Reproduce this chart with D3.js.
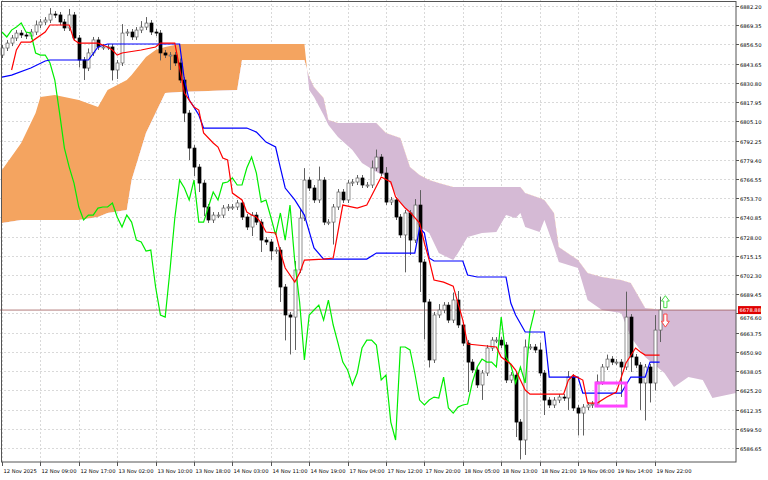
<!DOCTYPE html>
<html><head><meta charset="utf-8">
<script src="https://cdn.jsdelivr.net/npm/d3@7/dist/d3.min.js"></script>
<style>body{margin:0;background:#fff}svg{display:block}text{font-family:"DejaVu Sans",Arial,sans-serif;font-size:5.2px;fill:#000}</style>
</head><body><svg id="c" width="768" height="480"></svg>
<script>
const firstOpen = 6849.4;
const closes = [6854.1,6857.4,6860.8,6864.1,6862.8,6862.1,6864.8,6869.5,6871.5,6872.8,
6876.8,6876.2,6871.5,6867.5,6876.2,6860.8,6846.1,6840.7,6850.8,6859.5,
6854.8,6854.8,6854.8,6839.4,6844.1,6864.1,6864.8,6861.5,6866.1,6868.1,
6870.8,6864.8,6864.1,6850.8,6849.4,6849.4,6844.1,6832.7,6810.6,6787.2,
6774.5,6763.8,6747.8,6739.1,6742.4,6742.4,6747.1,6747.8,6747.8,6750.5,
6741.1,6734.4,6742.4,6737.7,6725.7,6724.4,6718.4,6719.0,6694.3,6675.6,
6674.2,6705.7,6740.4,6765.8,6760.5,6752.5,6765.8,6737.7,6737.7,6747.8,
6757.8,6752.5,6763.8,6764.5,6767.2,6762.5,6762.5,6773.9,6781.2,6770.5,
6751.1,6752.5,6741.1,6729.1,6743.8,6725.7,6749.1,6711.0,6684.3,6645.5,
6675.6,6678.9,6682.2,6672.2,6685.6,6668.9,6656.8,6644.1,6638.8,6628.8,
6636.8,6653.5,6658.8,6658.8,6655.5,6632.1,6635.4,6604.0,6592.0,6654.2,
6654.2,6652.2,6636.8,6618.7,6615.4,6618.7,6620.7,6620.1,6634.1,6613.4,
6610.0,6614.0,6615.4,6616.0,6630.8,6640.8,6646.1,6644.1,6644.1,6640.8,
6674.2,6647.5,6642.1,6630.1,6640.8,6630.1,6665.5,6678.88];
const wickUp = [2,2,2,2,2,2,2,3,2,2, 4,2,2,2,4,2,2,2,3,2, 2,2,2,2,2,6,2,2,2,4, 4,2,2,2,2,2,2,3,2,2,
2,2,2,2,2,2,2,2,2,2, 2,2,2,2,2,2,2,2,2,2, 2,6,6,8,2,2,9,2,2,2, 2,2,2,2,2,2,2,5,5,2,
4,2,2,2,2,2,4,10,2,2, 2,4,2,2,5,6,2,2,2,2, 2,2,2,2,2,2,2,2,2,5, 2,2,5,2,2,2,2,2,4,2,
2,2,2,2,5,2,3,2,2,2, 17,2,2,2,2,2,10,9];
const wickDn = [2,2,2,2,2,2,2,2,2,2, 2,2,2,2,2,2,5,8,2,2, 2,2,2,7,6,2,2,2,2,2, 2,2,2,5,2,10,2,2,6,8,
6,6,6,2,2,2,2,2,2,2, 2,2,6,2,8,2,6,2,10,17, 25,22,2,2,2,2,2,2,2,15, 2,2,2,2,2,2,2,2,2,2,
2,2,2,2,25,10,2,20,25,5, 2,2,2,2,2,2,2,20,2,2, 10,2,2,2,2,2,2,10,13,10, 2,2,2,10,2,2,2,2,8,2,
15,15,2,2,2,2,2,2,2,20, 2,10,2,18,25,13,5,8];
const tenkan = [[2,6839.4],[3,6852.8],[4,6858.1],[6,6858.1],[9,6864.8],[10,6869.5],[14,6869.5],[15,6859.5],[16,6857.4],[20,6857.4],[22,6854.8],[23,6852.8],[24,6849.4],[25,6850.8],[29,6852.8],[32,6854.8],[33,6857.4],[36,6857.4],[38,6824.0],[40,6814.6],[41,6812.6],[42,6797.3],[44,6790.6],[45,6787.9],[46,6780.5],[47,6779.2],[48,6757.1],[50,6752.5],[51,6744.4],[52,6742.4],[53,6741.1],[54,6737.1],[55,6731.1],[57,6730.4],[58,6717.7],[59,6707.0],[61,6697.6],[62,6703.6],[63,6712.3],[67,6713.0],[69,6713.7],[71,6749.1],[74,6747.1],[76,6749.1],[79,6767.8],[81,6764.5],[82,6754.5],[84,6747.1],[85,6744.4],[87,6737.1],[88,6723.7],[89,6712.3],[90,6699.0],[92,6697.6],[94,6694.9],[96,6672.2],[97,6656.2],[103,6654.2],[104,6647.5],[106,6642.8],[107,6638.8],[109,6625.4],[110,6622.7],[117,6622.7],[118,6632.1],[119,6635.4],[121,6632.1],[122,6616.7],[124,6616.7],[126,6620.7],[128,6624.1],[130,6643.5],[132,6653.5],[133,6650.8],[134,6648.8],[137,6648.8]];
const kijun = [[0,6834.7],[2,6836.0],[6,6840.7],[9,6845.4],[10,6846.1],[18,6846.1],[20,6854.8],[22,6856.8],[37,6856.8],[38,6832.7],[39,6819.3],[40,6814.6],[41,6809.3],[42,6800.6],[51,6800.6],[53,6797.9],[55,6791.2],[57,6787.9],[58,6773.9],[59,6760.5],[61,6752.5],[63,6742.4],[65,6720.4],[67,6713.0],[76,6713.0],[78,6717.0],[86,6717.0],[87,6733.7],[88,6730.4],[89,6713.7],[90,6711.7],[96,6711.7],[97,6702.3],[99,6701.0],[105,6701.0],[106,6683.6],[107,6675.6],[109,6664.2],[113,6664.2],[114,6634.1],[120,6634.1],[121,6623.4],[129,6623.4],[130,6628.8],[131,6634.1],[134,6634.1],[135,6644.1],[137,6644.1]];
const cloudIdx = [0,4,7,8,11,16,20,22,26,27,30,32,34,37,49,50,63,64,65,67,68,70,73,75,78,80,83,85,87,89,91,94,95,97,100,103,105,107,108,109,112,113,115,116,120,122,125,129,131,134,138,140,143,146,148,153];
const spanA = [6772.5,6790.6,6810.6,6821.3,6822.7,6819.3,6814.6,6826.0,6832.7,6836.0,6848.1,6852.8,6854.8,6856.8,6856.8,6856.8,6856.8,6826.0,6821.3,6809.3,6802.6,6794.6,6785.9,6777.2,6771.2,6768.5,6750.5,6742.4,6734.4,6730.4,6717.0,6712.3,6717.0,6727.7,6730.4,6731.1,6742.4,6740.4,6743.8,6734.4,6731.1,6739.1,6721.0,6711.0,6707.0,6685.6,6678.9,6676.9,6660.8,6647.5,6636.8,6627.4,6634.1,6632.1,6620.1,6623.4];
const spanB = [6737.1,6739.1,6739.1,6739.1,6739.1,6739.1,6741.1,6743.8,6745.8,6765.8,6797.3,6810.6,6824.0,6824.7,6826.0,6846.1,6846.1,6834.7,6828.0,6820.7,6806.0,6803.9,6803.9,6803.9,6803.9,6797.3,6793.9,6774.5,6769.2,6765.8,6763.8,6761.2,6761.2,6761.2,6761.2,6761.2,6761.2,6761.2,6761.2,6757.1,6753.8,6752.5,6743.8,6721.0,6712.3,6703.6,6701.0,6699.0,6697.0,6680.2,6678.9,6678.9,6678.9,6678.9,6678.9,6678.9];
const chikouShift = 26;
const yTicks = [6882.20,6869.35,6856.50,6843.65,6830.80,6817.95,6805.10,6792.25,6779.40,6766.55,6753.70,6740.85,6728.00,6715.15,6702.30,6689.45,6676.60,6663.75,6650.90,6638.05,6625.20,6612.35,6599.50,6586.65];
const xTickIdx = [0,8,16,24,32,40,48,56,64,72,80,88,96,104,112,120,128,136];
const xTickLabels = ["12 Nov 2025","12 Nov 09:00","12 Nov 17:00","13 Nov 02:00","13 Nov 10:00","13 Nov 18:00","14 Nov 03:00","14 Nov 11:00","14 Nov 19:00","17 Nov 04:00","17 Nov 12:00","17 Nov 20:00","18 Nov 05:00","18 Nov 13:00","18 Nov 21:00","19 Nov 06:00","19 Nov 14:00","19 Nov 22:00"];
const lastPrice = 6678.88;
const boxIdx = [123.75,130], boxPrice = [6630.1,6614.7];
const arrowIdx = 138.2, upArrowPrice = [6688.5,6680.5], dnArrowPrice = [6676.2,6667.5];

const svg = d3.select("#c");
const W=736, H=462;
const x = d3.scaleLinear().domain([0,137]).range([2,659.6]);
const y = d3.scaleLinear().domain([6586.65,6882.2]).range([448,6]);
const defs = svg.append("defs");
defs.append("clipPath").attr("id","plot").append("rect").attr("x",0).attr("y",0).attr("width",W).attr("height",H);
const g = svg.append("g");
g.selectAll(".gy").data(yTicks).join("line").attr("x1",0).attr("x2",W).attr("y1",d=>Math.round(y(d))+.5).attr("y2",d=>Math.round(y(d))+.5).attr("stroke","#d9d9d9").attr("stroke-dasharray","2,2");
g.selectAll(".gx").data(xTickIdx).join("line").attr("x1",d=>Math.round(x(d))+.5).attr("x2",d=>Math.round(x(d))+.5).attr("y1",0).attr("y2",H).attr("stroke","#d9d9d9").attr("stroke-dasharray","2,2");
const cd = cloudIdx.map((i,k)=>({i,a:spanA[k],b:spanB[k]}));
const cl = svg.append("g").attr("clip-path","url(#plot)");
defs.append("clipPath").attr("id","aboveB").append("path").attr("d", d3.area().x(d=>x(d.i)).y0(-50).y1(d=>y(d.b))(cd));
defs.append("clipPath").attr("id","belowB").append("path").attr("d", d3.area().x(d=>x(d.i)).y0(600).y1(d=>y(d.b))(cd));
const ar = d3.area().x(d=>x(d.i)).y0(d=>y(d.a)).y1(d=>y(d.b));
cl.append("g").attr("clip-path","url(#aboveB)").append("path").attr("d",ar(cd)).attr("fill","#f4a460");
cl.append("g").attr("clip-path","url(#belowB)").append("path").attr("d",ar(cd)).attr("fill","#d5bad5");
svg.append("line").attr("x1",0).attr("x2",W).attr("y1",y(lastPrice)).attr("y2",y(lastPrice)).attr("stroke","#a05a5a").attr("stroke-width",0.8);
const opens = closes.map((c,i)=>i===0?firstOpen:closes[i-1]);
const cg = svg.append("g").attr("clip-path","url(#plot)");
closes.forEach((c,i)=>{
  const o=opens[i], hi=Math.max(o,c)+wickUp[i], lo=Math.min(o,c)-wickDn[i];
  const cx=Math.round(x(i))+.5;
  cg.append("line").attr("x1",cx).attr("x2",cx).attr("y1",y(hi)).attr("y2",y(lo)).attr("stroke","#606060").attr("stroke-width",1);
  const top=y(Math.max(o,c)), bot=y(Math.min(o,c));
  cg.append("rect").attr("x",cx-1.5).attr("y",top).attr("width",3).attr("height",Math.max(1,bot-top))
    .attr("fill",c>=o?"#fff":"#000").attr("stroke",c>=o?"#606060":"#000").attr("stroke-width",0.7);
});
const ln = d3.line().x(d=>x(d[0])).y(d=>y(d[1]));
const chik = closes.map((c,i)=>[i-chikouShift,c]).filter(d=>d[0]>=-0.5);
cg.append("path").attr("d",ln(chik)).attr("fill","none").attr("stroke","#00ee00").attr("stroke-width",1.2);
cg.append("path").attr("d",ln(kijun)).attr("fill","none").attr("stroke","#0000ff").attr("stroke-width",1.2);
cg.append("path").attr("d",ln(tenkan)).attr("fill","none").attr("stroke","#ff0000").attr("stroke-width",1.2);
svg.append("rect").attr("x",x(boxIdx[0])).attr("y",y(boxPrice[0])).attr("width",x(boxIdx[1])-x(boxIdx[0])).attr("height",y(boxPrice[1])-y(boxPrice[0]))
  .attr("fill","none").attr("stroke","#ff44ff").attr("stroke-width",3);
function arrow(cx,yt,yb,up,col){
  const h=yb-yt, hw=4, sw=1.6, head=h*0.45;
  let pts = up? [[cx,yt],[cx+hw,yt+head],[cx+sw,yt+head],[cx+sw,yb],[cx-sw,yb],[cx-sw,yt+head],[cx-hw,yt+head]]
              : [[cx,yb],[cx+hw,yb-head],[cx+sw,yb-head],[cx+sw,yt],[cx-sw,yt],[cx-sw,yb-head],[cx-hw,yb-head]];
  svg.append("polygon").attr("points",pts.map(p=>p.join(",")).join(" ")).attr("fill","#fff").attr("stroke",col).attr("stroke-width",1);
}
arrow(x(arrowIdx),y(upArrowPrice[0]),y(upArrowPrice[1]),true,"#44dd44");
arrow(x(arrowIdx),y(dnArrowPrice[0]),y(dnArrowPrice[1]),false,"#ff4444");
svg.append("rect").attr("x",1.5).attr("y",1.5).attr("width",W-1.5).attr("height",H-1.5).attr("fill","none").attr("stroke","#555");
const ya = svg.append("g");
yTicks.forEach(t=>{
  const yy=Math.round(y(t))+.5;
  ya.append("line").attr("x1",W).attr("x2",W+3).attr("y1",yy).attr("y2",yy).attr("stroke","#555");
  if (Math.abs(y(t)-y(lastPrice))>6) ya.append("text").attr("x",W+4).attr("y",yy+2).text(t.toFixed(2));
  else ya.append("text").attr("x",W+4).attr("y",yy+6).text(t.toFixed(2));
});
ya.append("rect").attr("x",W+2).attr("y",y(lastPrice)-4).attr("width",23).attr("height",8).attr("fill","#e00000");
ya.append("text").attr("x",W+3.5).attr("y",y(lastPrice)+2).style("fill","#fff").text(lastPrice.toFixed(2));
const xa = svg.append("g");
xTickIdx.forEach((t,k)=>{
  const xx=Math.round(x(t))+.5;
  xa.append("line").attr("x1",xx).attr("x2",xx).attr("y1",H).attr("y2",H+4).attr("stroke","#555");
  xa.append("text").attr("x",xx+1).attr("y",H+11).text(xTickLabels[k]);
});
</script></body></html>
